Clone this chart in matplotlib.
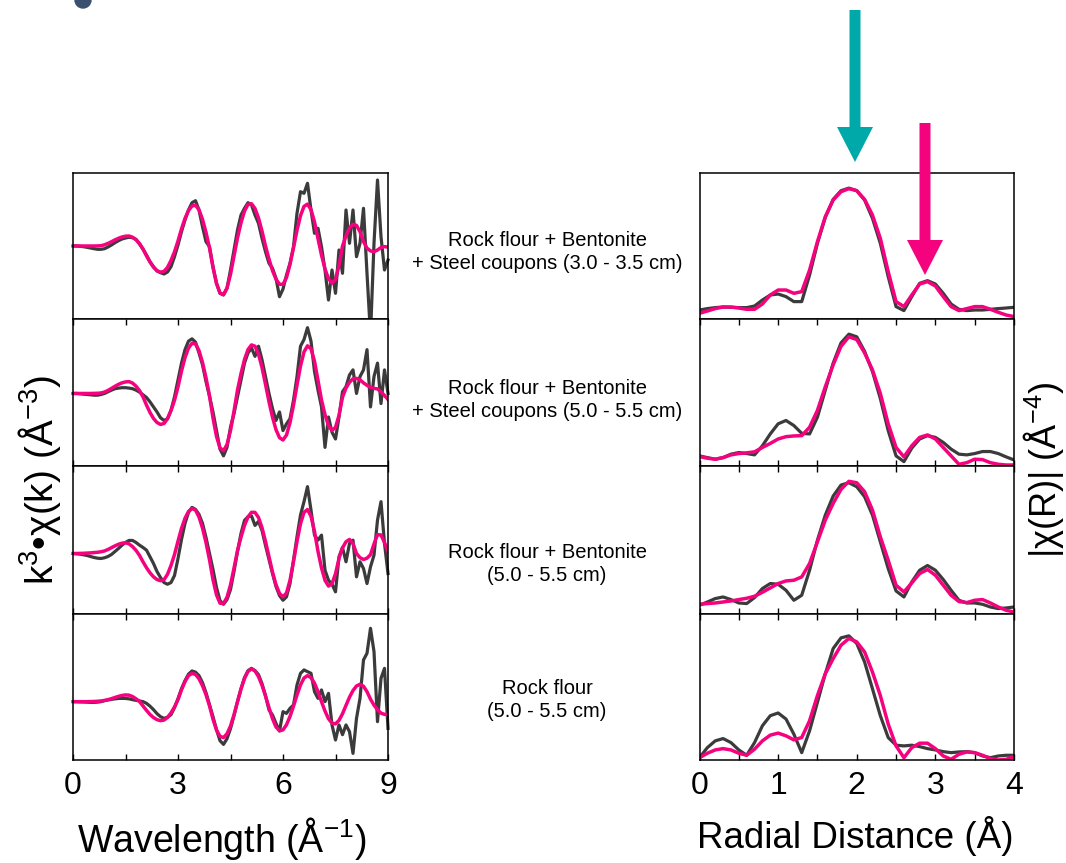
import numpy as np
import matplotlib
matplotlib.use("Agg")
import matplotlib.pyplot as plt
from matplotlib.patches import Ellipse

plt.rcParams['font.family'] = ['Liberation Sans', 'DejaVu Sans']
plt.rcParams['mathtext.fontset'] = 'custom'
plt.rcParams['mathtext.rm'] = 'Liberation Sans'
plt.rcParams['mathtext.it'] = 'Liberation Sans:italic'
plt.rcParams['mathtext.bf'] = 'Liberation Sans:bold'

# k grid (A^-1) and R grid (A)
k = np.linspace(0, 9, 91)
r = np.linspace(0, 4, 41)

labels = ["Rock flour + Bentonite\n+ Steel coupons (3.0 - 3.5 cm)",
          "Rock flour + Bentonite\n+ Steel coupons (5.0 - 5.5 cm)",
          "Rock flour + Bentonite\n(5.0 - 5.5 cm)",
          "Rock flour\n(5.0 - 5.5 cm)"]

# k^3 chi(k), data (gray) and fit (magenta), top to bottom
data_k1 = [0, 0, -0.03, -0.07, -0.13, -0.2, -0.27, -0.33, -0.33, -0.27,
           -0.1, 0.1, 0.33, 0.53, 0.7, 0.8, 0.87, 0.83, 0.67, 0.2,
           -0.33, -0.9, -1.57, -2.07, -2.5, -2.67, -2.8, -2.6, -2.07, -1.07,
           0.1, 1.43, 2.6, 3.6, 4.33, 4.53, 3.6, 1.93, 0.43, -0.07,
           -2.07, -3.73, -4.73, -4.9, -4.23, -2.4, -0.4, 1.6, 3.1, 3.77,
           4.33, 4.1, 3.1, 2.27, 0.77, -0.57, -1.73, -2.23, -3.23, -5.07,
           -4.3, -2.9, -1.73, -0.07, 3.27, 5.43, 5.27, 6.27, 3.6, 1.27,
           1.77, -0.07, -2.4, -5.4, -2.4, -4.73, -0.4, -2.73, 3.6, 0.27,
           3.6, -1.07, 0.27, 3.77, -2.73, -8.9, 0.27, 6.6, 0.93, -2.4,
           -1.4]
fit_k1 = [0, 0, 0, 0, 0, 0, 0, 0.01, 0.03, 0.12,
          0.26, 0.43, 0.61, 0.77, 0.9, 0.98, 1.0, 0.88, 0.62, 0.25,
          -0.29, -0.99, -1.61, -2.12, -2.46, -2.62, -2.54, -2.14, -1.45, -0.58,
          0.5, 1.71, 2.76, 3.55, 4.0, 4.07, 3.62, 2.67, 1.36, -0.2,
          -2.15, -3.74, -4.7, -4.86, -4.21, -2.84, -1.0, 0.81, 2.32, 3.49,
          4.16, 4.23, 3.75, 2.8, 1.49, 0, -1.31, -2.46, -3.33, -3.82,
          -3.84, -3.16, -1.84, -0.18, 1.57, 3.03, 3.96, 4.19, 3.64, 2.41,
          0.73, -0.91, -2.29, -3.28, -3.72, -3.36, -1.98, 0, 1.01, 1.79,
          2.18, 2.06, 1.43, 0.44, -0.22, -0.49, -0.57, -0.4, -0.15, -0.06,
          -0.12]

data_k2 = [0, 0, -0.03, -0.07, -0.1, -0.13, -0.17, -0.17, -0.1, 0,
           0.17, 0.33, 0.47, 0.53, 0.57, 0.57, 0.53, 0.47, 0.33, 0.13,
           -0.13, -0.4, -0.83, -1.33, -1.83, -2.4, -2.67, -2.5, -1.67, -0.33,
           1.33, 3.0, 4.33, 5.17, 5.4, 5.07, 4.0, 2.83, 1.17, -0.27,
           -1.83, -3.67, -5.5, -6.17, -5.33, -3.33, -2.0, -0.33, 1.33, 3.0,
           4.0, 4.5, 3.67, 4.67, 3.33, 1.67, 0, -1.5, -2.67, -1.83,
           -3.67, -3.0, -2.5, -0.67, 1.67, 4.67, 5.33, 6.5, 5.17, 2.17,
           0.33, -1.33, -5.33, -2.33, -3.83, -4.5, -2.33, 0.17, 0.67, 1.83,
           2.33, 0, 1.67, 2.33, 4.33, -1.33, 1.67, 3.0, -1.0, 2.33,
           0]
fit_k2 = [0, 0, 0, 0, 0, 0, 0.01, 0.02, 0.05, 0.14,
          0.3, 0.5, 0.71, 0.9, 1.05, 1.14, 1.17, 1.03, 0.72, 0.29,
          -0.34, -1.15, -1.88, -2.47, -2.87, -3.06, -2.97, -2.5, -1.69, -0.68,
          0.65, 2.21, 3.54, 4.48, 4.96, 4.89, 4.24, 3.07, 1.55, -0.23,
          -2.43, -4.25, -5.38, -5.66, -5.05, -3.68, -1.75, 0.33, 1.97, 3.36,
          4.34, 4.8, 4.67, 3.88, 2.57, 0.9, -0.82, -2.35, -3.58, -4.37,
          -4.6, -4.11, -2.89, -1.15, 0.82, 2.71, 4.1, 4.71, 4.41, 3.19,
          1.29, -0.64, -2.1, -3.18, -3.66, -3.35, -2.16, -0.38, 0.54, 1.11,
          1.45, 1.49, 1.35, 1.05, 0.8, 0.6, 0.5, 0.45, 0.15, -0.2,
          -0.6]

data_k3 = [0, -0.03, -0.07, -0.13, -0.2, -0.3, -0.4, -0.47, -0.5, -0.43,
           -0.3, -0.1, 0.2, 0.5, 0.83, 1.1, 1.3, 1.3, 1.1, 0.83,
           0.6, 0.33, -0.33, -1.0, -1.8, -2.4, -2.9, -3.07, -2.9, -2.2,
           -0.5, 1.4, 3.0, 4.1, 4.6, 4.4, 3.9, 3.0, 1.6, 0.0,
           -1.6, -3.4, -4.7, -5.07, -4.6, -3.6, -1.8, 0.2, 2.0, 3.3,
           3.67, 3.75, 2.8, 3.2, 2.3, 0.8, -0.6, -2.0, -3.3, -4.2,
           -4.67, -4.33, -3.0, -0.67, 1.67, 3.83, 5.17, 6.67, 4.33, 1.83,
           1.33, 1.83, -1.67, -2.67, -3.07, -3.83, -0.33, 0.6, -0.83, 1.0,
           1.33, -2.33, -0.83, -1.5, -3.0, -1.33, -0.17, 3.33, 5.17, 1.0,
           -2.0]
fit_k3 = [0, 0, 0.01, 0.02, 0.04, 0.06, 0.09, 0.12, 0.17, 0.25,
          0.4, 0.58, 0.76, 0.92, 1.03, 1.07, 0.96, 0.69, 0.31, -0.19,
          -0.83, -1.42, -1.93, -2.33, -2.6, -2.72, -2.62, -2.08, -1.2, -0.11,
          1.23, 2.5, 3.51, 4.19, 4.49, 4.33, 3.64, 2.53, 1.09, -0.63,
          -2.61, -4.13, -4.96, -4.99, -4.37, -3.14, -1.46, 0.28, 1.63, 2.8,
          3.65, 4.11, 4.1, 3.59, 2.58, 1.2, -0.32, -1.85, -3.12, -3.98,
          -4.33, -3.94, -2.68, -0.82, 1.2, 2.97, 4.1, 4.39, 3.71, 2.2,
          0.21, -1.44, -2.68, -3.25, -3.01, -2.02, -0.5, 0.56, 1.17, 1.4,
          0.99, 0, -0.42, -0.6, -0.47, -0.12, 0.95, 1.88, 1.85, 1.1,
          0.17]

data_k4 = [0, 0, -0.02, -0.03, -0.05, -0.07, -0.07, -0.05, 0, 0.1,
           0.17, 0.23, 0.28, 0.32, 0.33, 0.32, 0.28, 0.2, 0.13, 0.07,
           0, -0.17, -0.45, -0.8, -1.2, -1.5, -1.67, -1.55, -1.3, -0.6,
           0.3, 1.3, 2.1, 2.75, 3.07, 2.95, 2.6, 1.9, 0.9, -0.3,
           -1.5, -2.8, -3.9, -4.27, -3.7, -2.7, -1.4, 0, 1.3, 2.4,
           3.1, 3.33, 3.1, 2.7, 1.8, 0.6, -0.83, -1.33, -2.17, -2.93,
           -1.0, -1.17, -0.67, -0.33, 1.67, 2.83, 3.17, 3.0, 2.83, 1.0,
           0.33, 1.17, 0, 0.83, -2.33, -3.83, -2.33, -3.3, -2.33, -3.0,
           -5.17, -1.67, 0.33, 4.17, 4.83, 7.33, 5.0, -2.0, 2.33, 3.33,
           -2.67]
fit_k4 = [0, 0, 0, 0, 0, 0.01, 0.02, 0.04, 0.07, 0.12,
          0.2, 0.3, 0.42, 0.53, 0.62, 0.67, 0.65, 0.51, 0.29, 0.02,
          -0.43, -0.87, -1.28, -1.59, -1.8, -1.9, -1.84, -1.58, -1.12, -0.53,
          0.2, 1.18, 2.0, 2.6, 2.82, 2.72, 2.29, 1.59, 0.69, -0.42,
          -1.76, -2.84, -3.46, -3.59, -3.21, -2.44, -1.31, 0, 1.25, 2.31,
          3.02, 3.27, 3.07, 2.5, 1.64, 0.57, -0.6, -1.7, -2.53, -2.91,
          -2.82, -2.31, -1.48, -0.45, 0.67, 1.67, 2.36, 2.6, 2.4, 1.84,
          1.0, 0, -0.94, -1.71, -2.15, -2.22, -1.87, -1.21, -0.37, 0.45,
          1.11, 1.57, 1.73, 1.54, 1.0, 0.25, -0.35, -0.8, -1.15, -1.27,
          -1.27]

# |chi(R)|, data and fit, top to bottom
data_r1 = [0.93, 1.07, 1.17, 1.23, 1.2, 1.17, 1.17, 1.33, 1.93, 2.43,
           2.53, 2.27, 1.77, 1.77, 4.43, 7.6, 10.2, 12.0, 12.87, 13.13,
           12.87, 11.93, 10.1, 7.6, 4.27, 1.27, 0.87, 2.27, 3.6, 3.87,
           3.53, 2.6, 1.53, 1.0, 0.87, 0.93, 0.93, 1.0, 1.07, 1.13, 1.2]
fit_r1 = [0.6, 0.83, 1.07, 1.23, 1.23, 1.13, 1.0, 1.0, 1.53, 2.43,
          2.93, 2.93, 2.6, 2.77, 4.93, 7.77, 10.27, 11.93, 12.77, 13.07,
          12.87, 12.0, 10.43, 8.1, 4.77, 1.77, 1.27, 2.43, 3.53, 3.77,
          3.33, 2.27, 1.27, 0.87, 1.07, 1.27, 1.27, 1.0, 0.7, 0.43, 0.27]

data_r2 = [1.0, 0.83, 0.67, 0.83, 1.17, 1.33, 1.23, 1.1, 2.0, 3.17,
           4.17, 4.5, 4.0, 3.23, 3.17, 4.83, 7.5, 10.17, 12.17, 13.03,
           12.77, 11.33, 9.33, 6.67, 3.5, 1.0, 0.43, 1.77, 2.67, 3.0,
           2.83, 2.33, 1.67, 1.17, 1.1, 1.23, 1.43, 1.43, 1.23, 0.9, 0.6]
fit_r2 = [0.93, 0.77, 0.67, 0.83, 1.1, 1.23, 1.3, 1.4, 1.83, 2.23,
          2.67, 2.9, 2.97, 3.0, 3.83, 5.5, 7.83, 10.0, 11.83, 12.77,
          12.5, 11.17, 9.5, 7.17, 4.17, 1.83, 0.9, 2.0, 2.83, 3.07,
          2.67, 1.83, 1.0, 0.17, 0.33, 0.67, 0.63, 0.33, 0.17, 0.1, 0.1]

data_r3 = [0.9, 1.23, 1.57, 1.73, 1.47, 1.13, 1.07, 1.67, 2.57, 3.07,
           3.0, 2.4, 1.4, 1.9, 4.4, 7.4, 9.9, 11.8, 12.9, 13.13,
           12.73, 11.73, 9.9, 7.23, 4.57, 2.33, 1.73, 3.23, 4.4, 4.87,
           4.4, 3.47, 2.4, 1.4, 1.13, 1.13, 1.0, 0.73, 0.57, 0.63, 0.73]
fit_r3 = [1.0, 1.07, 1.13, 1.23, 1.33, 1.47, 1.6, 1.8, 2.2, 2.63,
          3.07, 3.33, 3.4, 3.73, 5.07, 7.23, 9.4, 11.07, 12.47, 13.27,
          13.13, 12.23, 10.4, 7.73, 5.4, 2.9, 2.23, 3.13, 4.07, 4.47,
          3.9, 2.9, 1.9, 1.27, 1.17, 1.4, 1.47, 1.13, 0.73, 0.4, 0.23]

data_r4 = [0.23, 1.23, 1.9, 2.13, 1.73, 1.0, 0.47, 1.73, 3.4, 4.4,
           4.67, 4.07, 2.57, 0.73, 2.9, 5.73, 8.57, 11.07, 12.13, 12.33,
           11.57, 9.73, 7.07, 4.4, 2.23, 1.47, 1.4, 1.47, 1.33, 1.13,
           1.0, 0.83, 0.73, 0.8, 0.83, 0.73, 0.4, 0.23, 0.4, 0.47, 0.47]
fit_r4 = [0.23, 0.67, 1.0, 1.13, 1.0, 0.67, 0.47, 1.07, 1.9, 2.47,
          2.67, 2.4, 2.0, 2.23, 3.9, 6.4, 8.57, 10.07, 11.4, 12.07,
          11.73, 10.73, 8.73, 6.4, 3.57, 1.4, 0.23, 1.23, 1.67, 1.67,
          1.13, 0.4, 0.07, 0.57, 0.8, 0.73, 0.47, 0.13, 0.0, 0.07, 0.33]

k_data = [data_k1, data_k2, data_k3, data_k4]
k_fit = [fit_k1, fit_k2, fit_k3, fit_k4]
r_data = [data_r1, data_r2, data_r3, data_r4]
r_fit = [fit_r1, fit_r2, fit_r3, fit_r4]

gray = '#3b3b3b'
pink = '#f5037f'
teal = '#00a9a9'

W, H = 1066, 863
fig = plt.figure(figsize=(W / 100, H / 100), dpi=100)

# panel edges in pixels (top to bottom)
edges = [172.7, 319.3, 466.0, 614.3, 760.0]
k_ylims = [(-7.33, 7.33), (-7.17, 7.33), (-6.07, 8.73), (-5.83, 8.73)]
r_ylims = [(0, 14.67), (0, 14.5), (0, 14.8), (0, 14.47)]


def style(ax, i, ticks, minor, xlim, ylim):
    ax.set_xlim(*xlim)
    ax.set_ylim(*ylim)
    ax.set_yticks([])
    for s in ax.spines.values():
        s.set_linewidth(1.1)
    ax.set_xticks(ticks)
    ax.set_xticks(minor, minor=True)
    if i == 0:
        ax.tick_params(axis='x', which='both', length=0, labelbottom=False)
    else:
        ax.tick_params(axis='x', which='both', direction='in', top=True,
                       bottom=True, length=4, width=1.0,
                       labelbottom=(i == 3), labelsize=23, pad=8)


for i in range(4):
    top, bot = edges[i], edges[i + 1]
    y0 = 1 - bot / H
    h = (bot - top) / H

    axk = fig.add_axes([73 / W, y0, 315 / W, h])
    axk.plot(k, k_data[i], color=gray, lw=2.3, clip_on=False,
             solid_joinstyle='round')
    axk.plot(k, k_fit[i], color=pink, lw=2.5, solid_joinstyle='round')
    style(axk, i, [0, 3, 6, 9], [1.5, 4.5, 7.5], (0, 9), k_ylims[i])

    axr = fig.add_axes([699.5 / W, y0, 314.5 / W, h])
    axr.plot(r, r_data[i], color=gray, lw=2.3, solid_joinstyle='round')
    axr.plot(r, r_fit[i], color=pink, lw=2.5, solid_joinstyle='round')
    style(axr, i, [0, 1, 2, 3, 4], [0.5, 1.5, 2.5, 3.5], (0, 4), r_ylims[i])

# overlay in pixel coordinates for labels and arrows
ov = fig.add_axes([0, 0, 1, 1], facecolor='none')
ov.set_xlim(0, W)
ov.set_ylim(H, 0)
ov.axis('off')

label_y = [252, 400, 564, 700]
for txt, yy in zip(labels, label_y):
    ov.text(547, yy, txt, ha='center', va='center', fontsize=14.5,
            linespacing=1.25)

ov.text(40, 480, 'k$^{3}$•χ(k) (Å$^{-3}$)', rotation=90, ha='center',
        va='center', fontsize=28)
ov.text(1043, 470, '|χ(R)| (Å$^{-4}$)', rotation=90, ha='center',
        va='center', fontsize=26)
ov.text(222, 838, 'Wavelength (Å$^{-1}$)', ha='center', va='center',
        fontsize=27)
ov.text(855, 836, 'Radial Distance (Å)', ha='center', va='center',
        fontsize=26.5)

ov.arrow(855, 10, 0, 152, width=11, head_width=36, head_length=35,
         length_includes_head=True, color=teal, lw=0)
ov.arrow(925, 123, 0, 152, width=11, head_width=36, head_length=35,
         length_includes_head=True, color=pink, lw=0)

# dark blob of a cut-off heading at the top edge
ov.add_patch(Ellipse((83, 0), 16, 16, color='#3b4f6e', clip_on=False))

fig.savefig('out.png', dpi=100)
